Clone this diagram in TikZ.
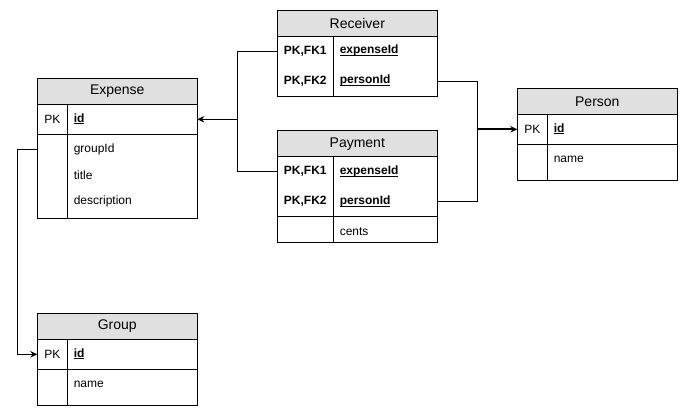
\documentclass[tikz,border=0pt]{standalone}
\usepackage{fontspec}
\setmainfont{Liberation Sans}
\usetikzlibrary{positioning,arrows.meta}
\definecolor{hdrgray}{RGB}{224,224,224}
\newcommand\pkey[1]{\textbf{\underline{\smash{#1}}}\strut}

\begin{document}
\begin{tikzpicture}[x=1pt, y=-1pt, line width=1pt, >={Stealth[length=7pt,width=6.5pt]},
  hdr/.style={draw, fill=hdrgray, anchor=north west, minimum width=160pt, minimum height=26pt, inner sep=0pt, outer sep=0pt, font=\fontsize{14}{17}\selectfont},
  blk/.style={draw, minimum width=160pt, minimum height=#1, inner sep=0pt, outer sep=0pt},
  key/.style={minimum width=#1, minimum height=30pt, inner sep=0pt, outer sep=0pt, font=\fontsize{12}{14}\selectfont},
  key/.default=30pt,
  att/.style={text width=#1, align=left, minimum height=30pt, inner xsep=6.5pt, inner ysep=0pt, outer sep=0pt, font=\fontsize{12}{14}\selectfont},
  att/.default=117pt,
  col/.style={att=#1, minimum height=26pt},
  col/.default=117pt]
\useasboundingbox (0,0) rectangle (688,416);

% Expense
\node  (exp)[hdr] at (37.3,78.3) {Expense};
\node  (expB1)[blk=30pt] [below right=0pt of exp.south west] {};
\node  (expB2)[blk=83.7pt] [below=0pt of expB1] {};
\node  (expK1)[key] [below right=0pt of expB1.north west] {PK};
\node  (expF1)[att] [right=0pt of expK1] {\pkey{id}};
\node  (expF2)[col] [below right=2pt and 0pt of expK1.south east] {groupId};
\node  (expF3)[col] [below right=0pt of expF2.south west] {title};
\node  (expF4)[col] [below right=0pt of expF3.south west] {description};
\draw (expK1.north east) -- (expK1.east |- expB2.south);

% Receiver
\node  (recv)[hdr] at (277.3,10) {Receiver};
\node  (recvB1)[blk=60pt] [below right=0pt of recv.south west] {};
\node  (recvK1)[key=56pt] [below right=0pt of recvB1.north west] {\textbf{PK,FK1}};
\node  (recvK2)[key=56pt] [below=0pt of recvK1] {\textbf{PK,FK2}};
\node  (recvF1)[att=91pt] [right=0pt of recvK1] {\pkey{expenseId}};
\node  (recvF2)[att=91pt] [right=0pt of recvK2] {\pkey{personId}};
\draw (recvK1.north east) -- (recvK2.south east);

% Payment
\node  (pay)[hdr] at (277.3,130.7) {Payment};
\node  (payB1)[blk=60pt] [below right=0pt of pay.south west] {};
\node  (payB2)[blk=26pt] [below=0pt of payB1] {};
\node  (payK1)[key=56pt] [below right=0pt of payB1.north west] {\textbf{PK,FK1}};
\node  (payK2)[key=56pt] [below=0pt of payK1] {\textbf{PK,FK2}};
\node  (payF1)[att=91pt] [right=0pt of payK1] {\pkey{expenseId}};
\node  (payF2)[att=91pt] [right=0pt of payK2] {\pkey{personId}};
\node  (payF3)[col=91pt] [below right=2pt and 0pt of payK2.south east] {cents};
\draw (payK1.north east) -- (payK1.east |- payB2.south);

% Person
\node  (per)[hdr] at (517.3,88.3) {Person};
\node  (perB1)[blk=30pt] [below right=0pt of per.south west] {};
\node  (perB2)[blk=35.7pt] [below=0pt of perB1] {};
\node  (perK1)[key] [below right=0pt of perB1.north west] {PK};
\node  (perF1)[att] [right=0pt of perK1] {\pkey{id}};
\node  (perF2)[col] [below right=2pt and 0pt of perK1.south east] {name};
\draw (perK1.north east) -- (perK1.east |- perB2.south);

% Group
\node  (grp)[hdr] at (37.3,313.3) {Group};
\node  (grpB1)[blk=30pt] [below right=0pt of grp.south west] {};
\node  (grpB2)[blk=36pt] [below=0pt of grpB1] {};
\node  (grpK1)[key] [below right=0pt of grpB1.north west] {PK};
\node  (grpF1)[att] [right=0pt of grpK1] {\pkey{id}};
\node  (grpF2)[col] [below right=2pt and 0pt of grpK1.south east] {name};
\draw (grpK1.north east) -- (grpK1.east |- grpB2.south);

% relations
\coordinate[right=40pt of expB1.east] (ej);
\coordinate[left=40pt of perB1.west] (pj);
\draw[->] (recvK1.west) -| (ej) -- (expB1.east);
\draw (payK1.west) -| (ej);
\draw (recvF2.east) -| (pj);
\draw (payF2.east) -| (pj);
\draw[->, line width=2pt] (pj) -- (perB1.west);
\draw[->] (expF2.west -| expB2.west) -- ++(-20,0) |- (grpB1.west);
\end{tikzpicture}
\end{document}
